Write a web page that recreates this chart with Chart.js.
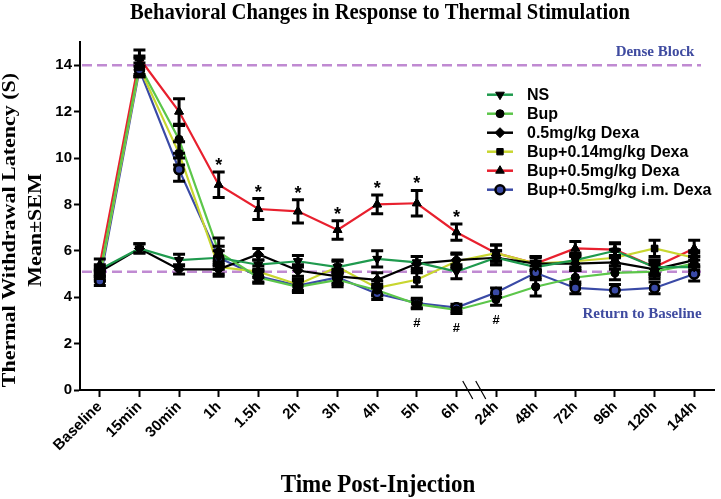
<!DOCTYPE html>
<html>
<head>
<meta charset="utf-8">
<script src="https://cdn.jsdelivr.net/npm/chart.js@4.4.1/dist/chart.umd.min.js"></script>
<style>
  html, body { margin: 0; padding: 0; background: #fff; }
  #wrap { width: 721px; height: 499px; position: relative; }
</style>
</head>
<body>
<div id="wrap"><canvas id="chart"></canvas></div>
<script>
// data
var timePoints = ['Baseline', '15min', '30min', '1h', '1.5h', '2h', '3h', '4h', '5h', '6h', '24h', '48h', '72h', '96h', '120h', '144h'];

var nsMean   = [5.2, 6.1, 5.6, 5.7, 5.4, 5.55, 5.3, 5.65, 5.5, 5.1, 5.7, 5.3, 5.6, 6.0, 5.3, 5.3];
var nsSem    = [0.2, 0.2, 0.25, 0.3, 0.2, 0.25, 0.25, 0.35, 0.25, 0.3, 0.3, 0.25, 0.3, 0.3, 0.3, 0.3];
var bupMean  = [5.0, 14.0, 10.8, 5.95, 4.85, 4.45, 4.75, 4.3, 3.7, 3.45, 3.9, 4.45, 4.85, 5.05, 5.1, 5.45];
var bupSem   = [0.2, 0.4, 0.6, 0.6, 0.25, 0.25, 0.3, 0.25, 0.2, 0.15, 0.25, 0.4, 0.3, 0.3, 0.3, 0.3];
var dexaMean = [5.1, 6.1, 5.2, 5.2, 5.85, 5.15, 4.9, 4.75, 5.45, 5.6, 5.7, 5.45, 5.45, 5.5, 5.2, 5.6];
var dexaSem  = [0.2, 0.2, 0.2, 0.3, 0.25, 0.25, 0.3, 0.3, 0.3, 0.3, 0.3, 0.3, 0.3, 0.3, 0.3, 0.3];
var lowMean  = [4.9, 13.9, 10.2, 5.3, 5.1, 4.55, 5.3, 4.4, 4.75, 5.55, 5.9, 5.45, 5.55, 5.7, 6.1, 5.7];
var lowSem   = [0.2, 0.4, 0.5, 0.3, 0.25, 0.25, 0.3, 0.3, 0.3, 0.3, 0.35, 0.3, 0.3, 0.35, 0.35, 0.3];
var highMean = [5.4, 14.3, 12.0, 8.85, 7.8, 7.7, 6.9, 8.0, 8.05, 6.8, 5.9, 5.45, 6.1, 6.05, 5.3, 6.1];
var highSem  = [0.25, 0.35, 0.55, 0.55, 0.45, 0.5, 0.4, 0.4, 0.55, 0.35, 0.35, 0.25, 0.3, 0.3, 0.3, 0.35];
var imMean   = [4.7, 13.8, 9.5, 5.7, 4.9, 4.5, 4.85, 4.15, 3.75, 3.55, 4.2, 5.05, 4.4, 4.3, 4.4, 5.0];
var imSem    = [0.2, 0.3, 0.5, 0.5, 0.25, 0.25, 0.3, 0.25, 0.2, 0.15, 0.2, 0.3, 0.25, 0.25, 0.25, 0.3];

var yTicks = [0, 2, 4, 6, 8, 10, 12, 14];
var denseBlock = 14;
var baselineLevel = 5.1;
var starPoints = ['1h', '1.5h', '2h', '3h', '4h', '5h', '6h'];
var hashPoints = ['5h', '6h', '24h'];

var serif = '"Liberation Serif", "Times New Roman", serif';
var sans = '"Liberation Sans", Arial, sans-serif';

function series(label, mean, sem, color, style, extra) {
  var ds = {
    label: label,
    data: mean,
    sem: sem,
    borderColor: color,
    backgroundColor: color,
    borderWidth: 2.2,
    tension: 0,
    pointStyle: style,
    pointRadius: 4.5,
    pointBackgroundColor: '#000',
    pointBorderColor: '#000',
    pointBorderWidth: 1
  };
  for (var k in extra) ds[k] = extra[k];
  return ds;
}

var datasets = [
  series('NS', nsMean, nsSem, '#1f9a4e', 'triangle', { pointRotation: 180, pointRadius: 5 }),
  series('Bup', bupMean, bupSem, '#5cc64a', 'circle', { pointRadius: 4 }),
  series('0.5mg/kg Dexa', dexaMean, dexaSem, '#000000', 'rectRot', { pointRadius: 5 }),
  series('Bup+0.14mg/kg Dexa', lowMean, lowSem, '#c8d630', 'rect', { pointRadius: 4.5 }),
  series('Bup+0.5mg/kg Dexa', highMean, highSem, '#e8202e', 'triangle', { pointRadius: 5 }),
  series('Bup+0.5mg/kg i.m. Dexa', imMean, imSem, '#3a4aa6', 'circle',
    { pointRadius: 4.5, pointBackgroundColor: '#3a4aa6', pointBorderWidth: 2.5 })
];

function markerOpts(ds) {
  return {
    pointStyle: ds.pointStyle,
    rotation: ds.pointRotation || 0,
    radius: ds.pointRadius,
    borderWidth: ds.pointBorderWidth
  };
}

// dashed reference lines
var refLines = {
  id: 'refLines',
  beforeDatasetsDraw: function(chart) {
    var ctx = chart.ctx, y = chart.scales.y, a = chart.chartArea;
    ctx.save();
    ctx.strokeStyle = '#c08ad2';
    ctx.lineWidth = 2.5;
    ctx.setLineDash([10, 5]);
    [denseBlock, baselineLevel].forEach(function(v) {
      var py = y.getPixelForValue(v);
      ctx.beginPath();
      ctx.moveTo(a.left + 2, py);
      ctx.lineTo(a.right - 13, py);
      ctx.stroke();
    });
    ctx.restore();
  }
};

// SEM error bars, then markers on top again
var errorBars = {
  id: 'errorBars',
  afterDatasetsDraw: function(chart) {
    var ctx = chart.ctx, xs = chart.scales.x, ys = chart.scales.y;
    ctx.save();
    ctx.strokeStyle = '#000';
    ctx.lineWidth = 3;
    chart.data.datasets.forEach(function(ds) {
      ds.data.forEach(function(m, i) {
        var px = xs.getPixelForValue(i);
        var t = ys.getPixelForValue(m + ds.sem[i]);
        var b = ys.getPixelForValue(m - ds.sem[i]);
        ctx.beginPath();
        ctx.moveTo(px, t); ctx.lineTo(px, b);
        ctx.moveTo(px - 6, t); ctx.lineTo(px + 6, t);
        ctx.moveTo(px - 6, b); ctx.lineTo(px + 6, b);
        ctx.stroke();
      });
    });
    ctx.restore();
    for (var d = chart.data.datasets.length - 1; d >= 0; d--) {
      chart.getDatasetMeta(d).data.forEach(function(p) { p.draw(ctx, chart.chartArea); });
    }
  }
};

var decorations = {
  id: 'decorations',
  afterDraw: function(chart) {
    var ctx = chart.ctx, xs = chart.scales.x, ys = chart.scales.y;
    ctx.save();
    ctx.fillStyle = '#000';
    ctx.textAlign = 'center';
    ctx.textBaseline = 'middle';

    // main title
    ctx.save();
    ctx.translate(380, 13);
    ctx.scale(0.86, 1);
    ctx.font = 'bold 24px ' + serif;
    ctx.fillText('Behavioral Changes in Response to Thermal Stimulation', 0, 0);
    ctx.restore();

    // x title
    ctx.save();
    ctx.translate(378, 486);
    ctx.scale(0.92, 1);
    ctx.font = 'bold 25px ' + serif;
    ctx.fillText('Time Post-Injection', 0, 0);
    ctx.restore();

    // y title
    ctx.save();
    ctx.translate(10, 230);
    ctx.rotate(-Math.PI / 2);
    ctx.scale(1, 0.85);
    ctx.font = 'bold 22px ' + serif;
    ctx.fillText('Thermal Withdrawal Latency (S)', 0, 0);
    ctx.restore();
    ctx.save();
    ctx.translate(36, 230);
    ctx.rotate(-Math.PI / 2);
    ctx.scale(1, 0.85);
    ctx.font = 'bold 22px ' + serif;
    ctx.fillText('Mean\u00B1SEM', 0, 0);
    ctx.restore();

    // reference labels
    ctx.fillStyle = '#3f4ba0';
    ctx.font = 'bold 15px ' + serif;
    ctx.fillText('Dense Block', 655, ys.getPixelForValue(denseBlock) - 13);
    ctx.fillText('Return to Baseline', 642, 314);

    // significance marks
    ctx.fillStyle = '#000';
    ctx.font = 'bold 18px ' + sans;
    var hi = chart.data.datasets[4];
    starPoints.forEach(function(lbl) {
      var i = timePoints.indexOf(lbl);
      ctx.fillText('*', xs.getPixelForValue(i), ys.getPixelForValue(hi.data[i] + hi.sem[i]) - 6);
    });
    ctx.font = 'bold 13px ' + sans;
    var lo = chart.data.datasets[1];
    hashPoints.forEach(function(lbl) {
      var i = timePoints.indexOf(lbl);
      ctx.fillText('#', xs.getPixelForValue(i), ys.getPixelForValue(lo.data[i] - lo.sem[i]) + 15);
    });

    // axis break between 6h and 24h
    var mid = (xs.getPixelForValue(9) + xs.getPixelForValue(10)) / 2 - 2;
    var ay = chart.chartArea.bottom;
    ctx.strokeStyle = '#000';
    ctx.lineWidth = 1.2;
    [-6.5, 6.5].forEach(function(dx) {
      ctx.beginPath();
      ctx.moveTo(mid + dx - 5, ay - 9);
      ctx.lineTo(mid + dx + 5, ay + 9);
      ctx.stroke();
    });

    // legend
    ctx.textAlign = 'left';
    ctx.font = 'bold 16px ' + sans;
    chart.data.datasets.forEach(function(ds, i) {
      var ly = 94.7 + 19 * i;
      ctx.strokeStyle = ds.borderColor;
      ctx.lineWidth = 2.5;
      ctx.beginPath();
      ctx.moveTo(487, ly); ctx.lineTo(513, ly);
      ctx.stroke();
      ctx.fillStyle = ds.pointBackgroundColor;
      ctx.strokeStyle = ds.pointBorderColor;
      ctx.lineWidth = ds.pointBorderWidth;
      Chart.helpers.drawPoint(ctx, markerOpts(ds), 500, ly);
      ctx.fillStyle = '#000';
      ctx.fillText(ds.label, 527, ly + 1);
    });
    ctx.restore();
  }
};

new Chart(document.getElementById('chart'), {
  type: 'line',
  data: { labels: timePoints, datasets: datasets },
  options: {
    responsive: true,
    maintainAspectRatio: false,
    animation: false,
    layout: { padding: { top: 42, left: 0, right: 1, bottom: 0 } },
    plugins: { legend: { display: false }, title: { display: false }, tooltip: { enabled: false } },
    scales: {
      x: {
        type: 'category',
        offset: true,
        afterFit: function(s) { s.height = 109; },
        grid: { drawOnChartArea: false, drawTicks: true, tickLength: 7, tickColor: '#000', tickWidth: 2 },
        border: { display: true, color: '#000', width: 2 },
        ticks: { color: '#000', font: { family: sans, size: 15, weight: 'bold' }, minRotation: 45, maxRotation: 45, padding: 1, autoSkip: false }
      },
      y: {
        min: 0,
        max: 15,
        afterFit: function(s) { s.width = 80; },
        afterBuildTicks: function(s) { s.ticks = yTicks.map(function(v) { return { value: v }; }); },
        grid: { drawOnChartArea: false, drawTicks: true, tickLength: 6, tickColor: '#000', tickWidth: 2 },
        border: { display: true, color: '#000', width: 2 },
        ticks: { color: '#000', font: { family: sans, size: 15, weight: 'bold' }, padding: 2 }
      }
    }
  },
  plugins: [refLines, errorBars, decorations]
});
</script>
</body>
</html>
